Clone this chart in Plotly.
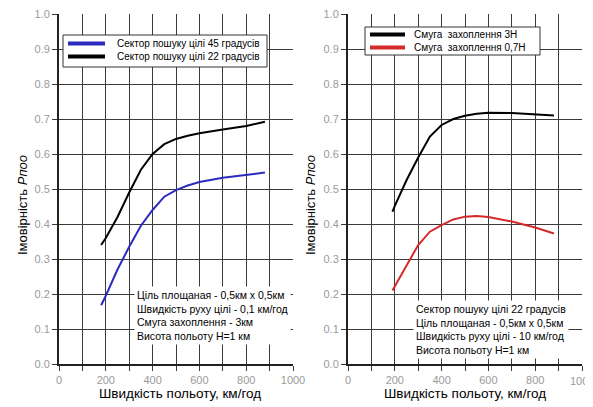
import plotly.graph_objects as go

# ---- data ----
speed_left = [180, 200, 250, 300, 350, 400, 450, 500, 550, 600, 700, 800, 880]
p_sector45 = [0.168, 0.195, 0.27, 0.335, 0.395, 0.44, 0.478, 0.497, 0.51, 0.52, 0.532, 0.54, 0.547]
p_sector22 = [0.34, 0.36, 0.42, 0.49, 0.555, 0.60, 0.628, 0.643, 0.652, 0.659, 0.670, 0.680, 0.692]

speed_right = [190, 200, 250, 300, 350, 400, 450, 500, 550, 600, 700, 800, 880]
p_swath3h = [0.435, 0.452, 0.525, 0.59, 0.65, 0.683, 0.70, 0.709, 0.715, 0.718, 0.717, 0.714, 0.71]
p_swath07h = [0.21, 0.222, 0.28, 0.34, 0.378, 0.397, 0.413, 0.421, 0.423, 0.42, 0.407, 0.39, 0.373]

x_ticks = [0, 200, 400, 600, 800, 1000]
y_ticks = [0.0, 0.1, 0.2, 0.3, 0.4, 0.5, 0.6, 0.7, 0.8, 0.9, 1.0]

label_45 = "Сектор пошуку цілі 45 градусів"
label_22 = "Сектор пошуку цілі 22 градусів"
label_3h = "Смуга  захоплення 3Н"
label_07h = "Смуга  захоплення 0,7Н"
note_left = ["Ціль площаная - 0,5км х 0,5км", "Швидкість руху цілі - 0,1 км/год",
             "Смуга захоплення - 3км", "Висота польоту Н=1 км"]
note_right = ["Сектор пошуку цілі 22 градусів", "Ціль площаная - 0,5км х 0,5км",
              "Швидкість руху цілі - 10 км/год", "Висота польоту Н=1 км"]
x_title = "Швидкість польоту, км/год"
y_title = "Імовірність <i>Рпоо</i>"

OFF = 8  # default page body margin
W, H = 593, 407
BLUE = "#2b2bbf"
RED = "#d42a2a"
BLACK = "#000000"
GRID = "#3a3a3a"
FONT = "Liberation Sans, Arial, sans-serif"
TICKFONT = dict(family=FONT, size=11, color="#9a9a9a")

fig = go.Figure()

fig.add_trace(go.Scatter(x=speed_left, y=p_sector45, mode="lines", line=dict(color=BLUE, width=2),
                         name=label_45, xaxis="x", yaxis="y"))
fig.add_trace(go.Scatter(x=speed_left, y=p_sector22, mode="lines", line=dict(color=BLACK, width=2),
                         name=label_22, xaxis="x", yaxis="y"))
fig.add_trace(go.Scatter(x=speed_right, y=p_swath3h, mode="lines", line=dict(color=BLACK, width=2),
                         name=label_3h, xaxis="x2", yaxis="y2"))
fig.add_trace(go.Scatter(x=speed_right, y=p_swath07h, mode="lines", line=dict(color=RED, width=2),
                         name=label_07h, xaxis="x2", yaxis="y2"))

# page-pixel -> paper fraction
px = lambda v: (v - OFF) / W
py = lambda v: 1 - (v - OFF) / H

def xaxis_cfg(domain, anchor, ticktext):
    return dict(domain=domain, anchor=anchor, range=[0, 1000], tickvals=x_ticks,
                ticktext=ticktext, automargin=False, ticklabeloverflow="allow",
                showgrid=True, gridcolor=GRID, gridwidth=1,
                minor=dict(dtick=100, tick0=0, showgrid=True, gridcolor=GRID, gridwidth=1,
                           ticks="outside", ticklen=5, tickcolor=GRID),
                ticks="outside", ticklen=5, tickcolor=GRID,
                showline=True, linecolor="#222222", linewidth=2, zeroline=False,
                tickfont=TICKFONT, fixedrange=True)

def yaxis_cfg(domain, anchor):
    return dict(domain=domain, anchor=anchor, range=[0, 1.0], tickvals=y_ticks,
                ticktext=[f"{v:.1f}" for v in y_ticks], automargin=False, ticklabeloverflow="allow",
                showgrid=True, gridcolor=GRID, gridwidth=1,
                ticks="outside", ticklen=5, tickcolor=GRID,
                showline=True, linecolor="#222222", linewidth=2, zeroline=False,
                tickfont=TICKFONT, fixedrange=True)

ydom = [py(364), py(14)]
left_ticktext = [str(v) for v in x_ticks]
# the last label of the right axis sits at the page edge; it is drawn as an annotation below
right_ticktext = [str(v) for v in x_ticks[:-1]] + [""]

annotations = []
shapes = []
annotations.append(dict(x=x_ticks[-1], xref="x2", y=py(380.5), yref="paper", text=str(x_ticks[-1]),
                        showarrow=False, xanchor="center", yanchor="middle", font=TICKFONT))
for cx, cy in [((59 + 293) / 2 + 4, 393), ((348 + 582) / 2, 393)]:
    annotations.append(dict(x=px(cx), y=py(cy), xref="paper", yref="paper", text=x_title,
                            showarrow=False, font=dict(family=FONT, size=13.5, color="black"),
                            xanchor="center", yanchor="middle"))
for cx in [22, 310]:
    annotations.append(dict(x=px(cx), y=py(205), xref="paper", yref="paper", text=y_title,
                            showarrow=False, textangle=-90,
                            font=dict(family=FONT, size=13, color="black"),
                            xanchor="center", yanchor="middle"))

# notes with white background
annotations.append(dict(x=px(134), y=py(286), xref="paper", yref="paper",
                        text="<br>".join(note_left), align="left", showarrow=False,
                        xanchor="left", yanchor="top", bgcolor="white",
                        font=dict(family=FONT, size=10.5, color="black"), borderpad=2))
annotations.append(dict(x=px(413), y=py(300), xref="paper", yref="paper",
                        text="<br>".join(note_right), align="left", showarrow=False,
                        xanchor="left", yanchor="top", bgcolor="white",
                        font=dict(family=FONT, size=10.5, color="black"), borderpad=2))

# custom legends (box, line samples, labels) drawn in paper space
legends = [
    dict(box=(63, 35, 267, 67), x0=68, x1=105, tx=115,
         items=[(label_45, BLUE, 43.5), (label_22, BLACK, 56.5)]),
    dict(box=(365, 27, 540, 55), x0=370, x1=405, tx=412,
         items=[(label_3h, BLACK, 34.5), (label_07h, RED, 47.5)]),
]
for lg in legends:
    bx0, by0, bx1, by1 = lg["box"]
    shapes.append(dict(type="rect", xref="paper", yref="paper", x0=px(bx0), x1=px(bx1),
                       y0=py(by1), y1=py(by0), fillcolor="white",
                       line=dict(color="#333333", width=1), layer="above"))
    for label, color, yy in lg["items"]:
        shapes.append(dict(type="line", xref="paper", yref="paper", x0=px(lg["x0"]), x1=px(lg["x1"]),
                           y0=py(yy), y1=py(yy), line=dict(color=color, width=4), layer="above"))
        annotations.append(dict(x=px(lg["tx"]), y=py(yy), xref="paper", yref="paper", text=label,
                                showarrow=False, xanchor="left", yanchor="middle",
                                font=dict(family=FONT, size=10, color="black")))

fig.update_layout(
    template="none",
    width=W, height=H, margin=dict(l=0, r=0, t=0, b=0, pad=0, autoexpand=False),
    paper_bgcolor="white", plot_bgcolor="white",
    xaxis=xaxis_cfg([px(59), px(293)], "y", left_ticktext),
    yaxis=yaxis_cfg(ydom, "x"),
    xaxis2=xaxis_cfg([px(348), px(582)], "y2", right_ticktext),
    yaxis2=yaxis_cfg(ydom, "x2"),
    showlegend=False,
    annotations=annotations,
    shapes=shapes,
)

fig.write_html("out.html")
